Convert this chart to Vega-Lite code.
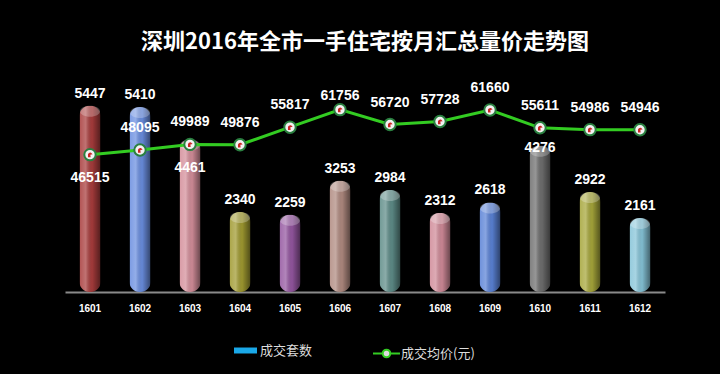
{
  "$schema": "https://vega.github.io/schema/vega-lite/v6.json",
  "width": 600,
  "height": 212,
  "autosize": {"type": "none"},
  "padding": {"left": 65, "top": 80, "right": 55, "bottom": 82},
  "background": "#000000",
  "title": {"text": "深圳2016年全市一手住宅按月汇总量价走势图", "font": "Noto Sans CJK SC", "fontSize": 22, "fontWeight": "bold", "color": "#ffffff", "anchor": "middle", "offset": 26},
  "data": {"values": [
    {"m": "1601", "n": 5447, "p": 46515},
    {"m": "1602", "n": 5410, "p": 48095},
    {"m": "1603", "n": 4461, "p": 49989},
    {"m": "1604", "n": 2340, "p": 49876},
    {"m": "1605", "n": 2259, "p": 55817},
    {"m": "1606", "n": 3253, "p": 61756},
    {"m": "1607", "n": 2984, "p": 56720},
    {"m": "1608", "n": 2312, "p": 57728},
    {"m": "1609", "n": 2618, "p": 61660},
    {"m": "1610", "n": 4276, "p": 55611},
    {"m": "1611", "n": 2922, "p": 54986},
    {"m": "1612", "n": 2161, "p": 54946}
  ]},
  "encoding": {
    "x": {"field": "m", "type": "ordinal", "scale": {"paddingInner": 0, "paddingOuter": 0}, "axis": {"title": null, "labelAngle": 0, "labelColor": "#ffffff", "labelFont": "Liberation Sans", "labelFontSize": 10, "labelFontWeight": "bold", "domainColor": "#8a8a8a", "domainWidth": 2, "ticks": false, "tickSize": 0, "labelPadding": 11, "grid": false}}
  },
  "layer": [
    {
      "mark": {"type": "bar", "size": 21, "cornerRadius": 10},
      "encoding": {
        "y": {"field": "n", "type": "quantitative", "scale": {"domain": [0, 6200]}, "axis": null},
        "color": {"field": "m", "type": "nominal", "legend": null, "scale": {"domain": ["1601","1602","1603","1604","1605","1606","1607","1608","1609","1610","1611","1612"], "range": ["#a83c3c","#6a8ee0","#d48e9a","#a09a30","#9456a0","#b08a80","#5e8c88","#d08a98","#5a82d6","#6e6e6e","#a6a63a","#86c4d8"]}}
      }
    },
    {
      "mark": {"type": "bar", "size": 21, "cornerRadius": 10, "fill": {"gradient": "linear", "x1": 0, "x2": 1, "y1": 0, "y2": 0, "stops": [{"offset": 0, "color": "rgba(255,255,255,0.12)"}, {"offset": 0.3, "color": "rgba(255,255,255,0.28)"}, {"offset": 0.6, "color": "rgba(0,0,0,0.05)"}, {"offset": 1, "color": "rgba(0,0,0,0.5)"}]}},
      "encoding": {
        "y": {"field": "n", "type": "quantitative", "scale": {"domain": [0, 6200]}, "axis": null}
      }
    },
    {
      "mark": {"type": "point", "shape": "M-1,0.55 A1,0.55 0 1,0 1,0.55 A1,0.55 0 1,0 -1,0.55 Z", "size": 400, "filled": true, "fill": "#ffffff", "fillOpacity": 0.25, "strokeWidth": 0},
      "encoding": {
        "y": {"field": "n", "type": "quantitative", "scale": {"domain": [0, 6200]}, "axis": null}
      }
    },
    {
      "mark": {"type": "bar", "size": 1},
      "encoding": {
        "y": {"datum": 0, "type": "quantitative", "scale": {"domain": [0, 6200]}, "axis": null},
        "fill": {"datum": "成交套数", "type": "nominal", "scale": {"range": ["#1aa8e8"]}, "legend": {"title": null, "orient": "none", "legendX": 169, "legendY": 259, "padding": 0, "symbolType": "M-1,-0.26 L1,-0.26 L1,0.26 L-1,0.26 Z", "symbolSize": 529, "symbolStrokeWidth": 0, "labelColor": "#dddddd", "labelFont": "Noto Sans CJK SC", "labelFontSize": 13, "labelOffset": 3}}
      }
    },
    {
      "mark": {"type": "line", "strokeWidth": 3},
      "encoding": {
        "y": {"field": "p", "type": "quantitative", "scale": {"domain": [0, 71800]}, "axis": null},
        "stroke": {"datum": "成交均价(元)", "type": "nominal", "scale": {"range": ["#33cc22"]}, "legend": {"title": null, "orient": "none", "legendX": 307, "legendY": 259, "padding": 0, "symbolType": "M-1,0 L-0.28,0 M0.28,0 L1,0 M0.28,0 A0.28,0.28 0 1,0 -0.28,0 A0.28,0.28 0 1,0 0.28,0", "symbolSize": 729, "symbolStrokeWidth": 2, "symbolFillColor": "#dddddd", "labelColor": "#dddddd", "labelFont": "Noto Sans CJK SC", "labelFontSize": 13, "labelOffset": 0}}
      }
    },
    {
      "mark": {"type": "point", "filled": true, "fill": "#f2f2f2", "stroke": "#2a8040", "strokeWidth": 2, "size": 130, "opacity": 1},
      "encoding": {
        "y": {"field": "p", "type": "quantitative", "scale": {"domain": [0, 71800]}, "axis": null}
      }
    },
    {
      "mark": {"type": "point", "filled": true, "fill": "#cc2222", "strokeWidth": 0, "size": 45, "opacity": 1, "shape": "M-0.6,0.8 L-0.6,-0.1 Q-0.4,-0.7 0.3,-0.6 L0.8,-0.1 L0.1,0 L0.2,0.8 Z"},
      "encoding": {
        "y": {"field": "p", "type": "quantitative", "scale": {"domain": [0, 71800]}, "axis": null}
      }
    },
    {
      "transform": [{"filter": "datum.m !== '1603' && datum.m !== '1610'"}],
      "mark": {"type": "text", "baseline": "bottom", "dy": -5, "font": "Liberation Sans", "fontSize": 14, "fontWeight": "bold", "color": "#ffffff"},
      "encoding": {
        "y": {"field": "n", "type": "quantitative", "scale": {"domain": [0, 6200]}, "axis": null},
        "text": {"field": "n", "type": "quantitative", "format": "d"}
      }
    },
    {
      "transform": [{"filter": "datum.m === '1603'"}],
      "mark": {"type": "text", "baseline": "top", "dy": 22, "font": "Liberation Sans", "fontSize": 14, "fontWeight": "bold", "color": "#ffffff"},
      "encoding": {
        "y": {"field": "n", "type": "quantitative", "scale": {"domain": [0, 6200]}, "axis": null},
        "text": {"field": "n", "type": "quantitative", "format": "d"}
      }
    },
    {
      "transform": [{"filter": "datum.m === '1610'"}],
      "mark": {"type": "text", "baseline": "middle", "dy": 2, "font": "Liberation Sans", "fontSize": 14, "fontWeight": "bold", "color": "#ffffff"},
      "encoding": {
        "y": {"field": "n", "type": "quantitative", "scale": {"domain": [0, 6200]}, "axis": null},
        "text": {"field": "n", "type": "quantitative", "format": "d"}
      }
    },
    {
      "transform": [{"filter": "datum.m !== '1601' && datum.m !== '1606'"}],
      "mark": {"type": "text", "baseline": "bottom", "dy": -15, "font": "Liberation Sans", "fontSize": 14, "fontWeight": "bold", "color": "#ffffff"},
      "encoding": {
        "y": {"field": "p", "type": "quantitative", "scale": {"domain": [0, 71800]}, "axis": null},
        "text": {"field": "p", "type": "quantitative", "format": "d"}
      }
    },
    {
      "transform": [{"filter": "datum.m === '1606'"}],
      "mark": {"type": "text", "baseline": "bottom", "dy": -7, "font": "Liberation Sans", "fontSize": 14, "fontWeight": "bold", "color": "#ffffff"},
      "encoding": {
        "y": {"field": "p", "type": "quantitative", "scale": {"domain": [0, 71800]}, "axis": null},
        "text": {"field": "p", "type": "quantitative", "format": "d"}
      }
    },
    {
      "transform": [{"filter": "datum.m === '1601'"}],
      "mark": {"type": "text", "baseline": "top", "dy": 16, "font": "Liberation Sans", "fontSize": 14, "fontWeight": "bold", "color": "#ffffff"},
      "encoding": {
        "y": {"field": "p", "type": "quantitative", "scale": {"domain": [0, 71800]}, "axis": null},
        "text": {"field": "p", "type": "quantitative", "format": "d"}
      }
    }
  ],
  "resolve": {"scale": {"y": "independent"}},
  "config": {"view": {"stroke": null}}
}
